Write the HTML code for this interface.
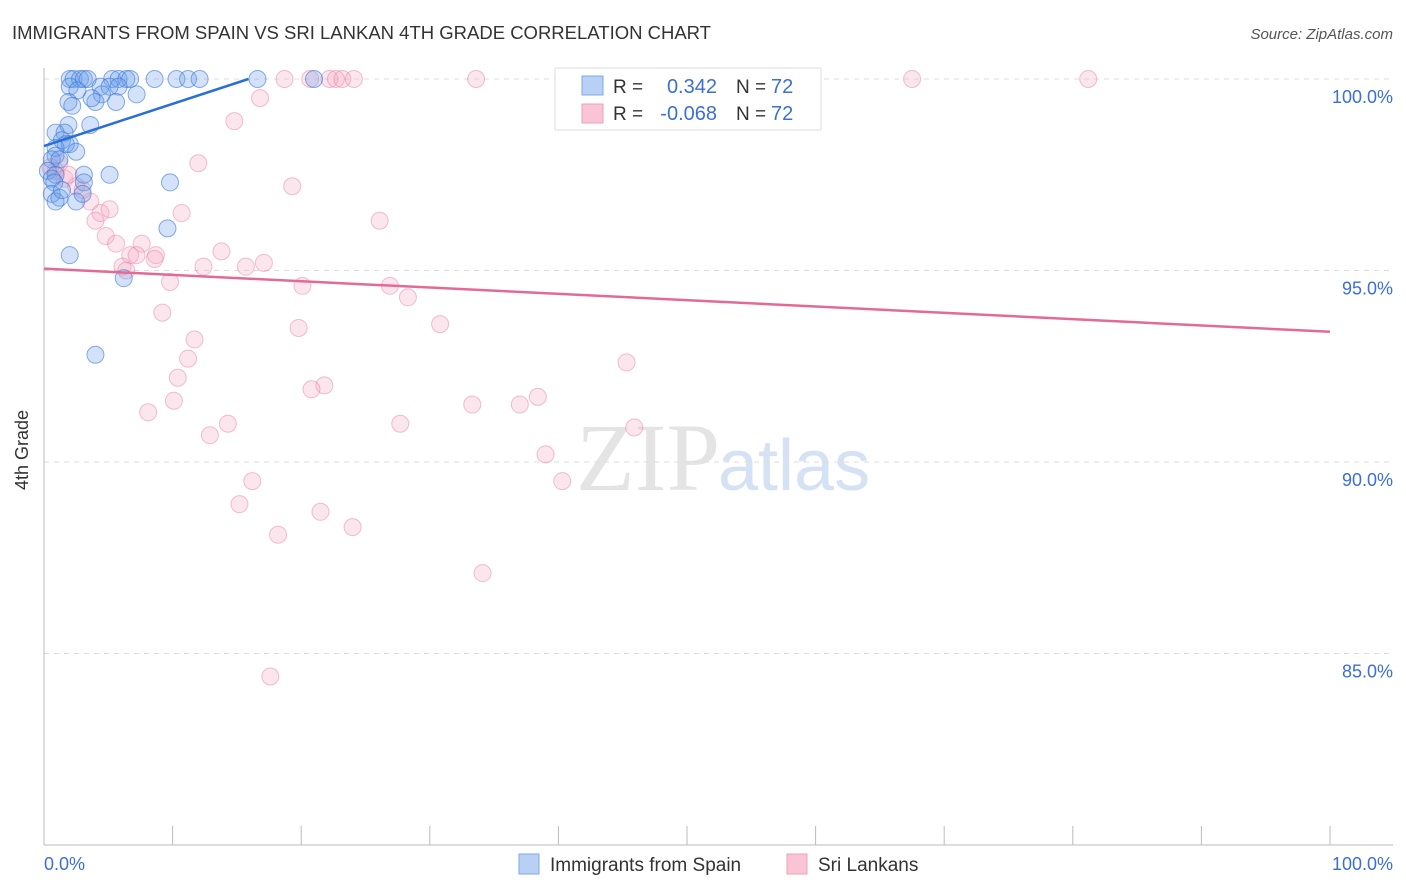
<!DOCTYPE html>
<html><head><meta charset="utf-8"><style>
body{margin:0;background:#fff;font-family:"Liberation Sans",sans-serif;}
svg{display:block}
</style></head><body>
<svg id="chart" width="1406" height="892" xmlns="http://www.w3.org/2000/svg">
<text x="12" y="39" font-size="18.5" fill="#333">IMMIGRANTS FROM SPAIN VS SRI LANKAN 4TH GRADE CORRELATION CHART</text>
<text x="1393" y="39" font-size="15" font-style="italic" fill="#555" text-anchor="end">Source: ZipAtlas.com</text>
<text x="720" y="490" font-size="96" font-family="Liberation Serif,serif" fill="#e4e4e4" text-anchor="end">ZIP</text>
<text x="718" y="490" font-size="72" fill="#d5e2f3">atlas</text>
<g id="grid"></g>
<g id="axes"></g>
<g id="pts"></g>
<g id="trends"></g>
<text x="34" y="456" font-size="18" fill="#333" text-anchor="middle" transform="rotate(-90 28 456)">4th Grade</text>
<text x="44" y="870" font-size="18" fill="#3b6fd4">0.0%</text>
<text x="1393" y="870" font-size="18" fill="#3b6fd4" text-anchor="end">100.0%</text>
<g>
<rect x="555" y="68" width="266" height="62" fill="#fff" stroke="#ddd"/>
<rect x="582" y="76" width="21" height="19" fill="#b8d0f4" stroke="#7fa8e6"/>
<rect x="582" y="104" width="21" height="19" fill="#f9c5d5" stroke="#eea0b8"/>
<text x="613" y="93" font-size="19" fill="#333">R = </text><text x="717" y="93" font-size="20" fill="#3b6fd4" text-anchor="end">0.342</text>
<text x="736" y="93" font-size="19" fill="#333">N = </text><text x="771" y="93" font-size="20" fill="#3b6fd4">72</text>
<text x="613" y="120" font-size="19" fill="#333">R = </text><text x="717" y="120" font-size="20" fill="#3b6fd4" text-anchor="end">-0.068</text>
<text x="736" y="120" font-size="19" fill="#333">N = </text><text x="771" y="120" font-size="20" fill="#3b6fd4">72</text>
</g>
<g>
<rect x="519" y="854" width="20" height="20" fill="#b8d0f4" stroke="#7fa8e6"/>
<text x="550" y="871" font-size="19" fill="#333">Immigrants from Spain</text>
<rect x="787" y="854" width="20" height="20" fill="#f9c5d5" stroke="#eea0b8"/>
<text x="818" y="871" font-size="19" fill="#333">Sri Lankans</text>
</g>
</svg>
<script>
const yTicks=[100,95,90,85];
const yTickLabels=["100.0%","95.0%","90.0%","85.0%"];
const xTicks=[0,10,20,30,40,50,60,70,80,90,100];
const blueX=[2.0,2.3,2.8,3.1,3.4,5.3,5.8,6.4,6.7,8.6,10.3,11.2,12.1,16.6,21.0,2.0,2.6,4.4,5.1,5.8,7.2,4.5,1.9,2.2,4.0,5.6,3.7,1.9,3.6,0.9,1.6,1.4,1.7,2.0,0.9,0.9,2.5,0.6,1.2,0.3,0.9,3.1,5.1,0.6,0.8,3.1,0.6,1.2,2.5,0.9,9.8,9.6,2.0,6.2,4.0,3.0,1.4];
const blueY=[100,100,100,100,100,100,100,100,100,100,100,100,100,100,100,99.8,99.7,99.8,99.8,99.8,99.6,99.6,99.4,99.3,99.4,99.4,99.5,98.8,98.8,98.6,98.6,98.4,98.3,98.3,98.2,98.0,98.1,97.9,97.9,97.6,97.5,97.5,97.5,97.4,97.3,97.3,97.0,96.9,96.8,96.8,97.3,96.1,95.4,94.8,92.8,97.0,97.1];
const pinkX=[41.4,18.7,20.7,22.2,22.7,23.2,24.1,33.6,67.5,81.2,16.8,14.8,12.0,19.3,26.1,10.7,4.4,4.0,3.6,5.1,4.8,5.6,7.6,6.7,7.2,8.7,8.6,6.1,6.4,12.4,15.7,17.1,13.8,9.8,20.1,26.9,28.3,9.2,19.8,30.8,11.7,11.2,45.3,10.4,21.8,20.8,10.1,8.1,33.3,37.0,38.4,14.3,12.9,27.7,45.9,39.0,40.3,16.2,15.2,21.5,24.0,18.2,34.1,17.6,1.2,0.9,1.6,2.5,0.5,1.9,3.0];
const pinkY=[100,100,100,100,100,100,100,100,100,100,99.5,98.9,97.8,97.2,96.3,96.5,96.5,96.3,96.8,96.6,95.9,95.7,95.7,95.4,95.4,95.4,95.3,95.1,95.0,95.1,95.1,95.2,95.5,94.7,94.6,94.6,94.3,93.9,93.5,93.6,93.2,92.7,92.6,92.2,92.0,91.9,91.6,91.3,91.5,91.5,91.7,91.0,90.7,91.0,90.9,90.2,89.5,89.5,88.9,88.7,88.3,88.1,87.1,84.4,97.8,97.6,97.4,97.2,97.7,97.5,97.1];
const blueTrend=[[0,98.25],[15.9,100]];
const pinkTrend=[[0,95.05],[100,93.4]];
const NS="http://www.w3.org/2000/svg";
const X0=44,X1=1330,Y100=79,PXPER=38.3;
const sx=v=>X0+(X1-X0)*v/100;
const sy=v=>Y100+(100-v)*PXPER;
function mk(tag,attrs,parent){const e=document.createElementNS(NS,tag);for(const k in attrs)e.setAttribute(k,attrs[k]);document.getElementById(parent).appendChild(e);return e;}
yTicks.forEach((t,i)=>{
 const l=mk('line',{x1:X0,x2:1393,y1:sy(t),y2:sy(t),stroke:'#ddd','stroke-dasharray':'5,5'},'grid');
 
 
 const tx=mk('text',{x:1393,y:sy(t)+24,'font-size':18,fill:'#3b6fd4','text-anchor':'end'},'grid');
 tx.textContent=yTickLabels[i];
 
 
});
const ax=mk('line',{x1:X0,x2:X0,y1:68,y2:845,stroke:'#bbb'},'axes');


const bx=mk('line',{x1:X0,x2:1393,y1:845,y2:845,stroke:'#bbb'},'axes');


xTicks.forEach(t=>{
 const l=mk('line',{x1:sx(t),x2:sx(t),y1:826,y2:845,stroke:'#bbb'},'axes');
 
 
});
function pts(xs,ys,fill,stroke,name){
 xs.forEach((x,i)=>{
  const c=mk('circle',{cx:sx(x),cy:sy(ys[i]),r:8.5,fill:fill,stroke:stroke,'stroke-width':1},'pts');
  
  
 });
}
pts(pinkX,pinkY,'rgba(244,165,192,0.28)','rgba(230,130,165,0.5)','srilanka-point');
pts(blueX,blueY,'rgba(110,160,235,0.3)','rgba(60,120,210,0.6)','spain-point');
const tb=mk('line',{x1:sx(blueTrend[0][0]),y1:sy(blueTrend[0][1]),x2:sx(blueTrend[1][0]),y2:sy(blueTrend[1][1]),stroke:'#2a6fd6','stroke-width':2.5},'trends');


const tp=mk('line',{x1:sx(pinkTrend[0][0]),y1:sy(pinkTrend[0][1]),x2:sx(pinkTrend[1][0]),y2:sy(pinkTrend[1][1]),stroke:'#e46a96','stroke-width':2.5},'trends');


</script>
</body></html>
